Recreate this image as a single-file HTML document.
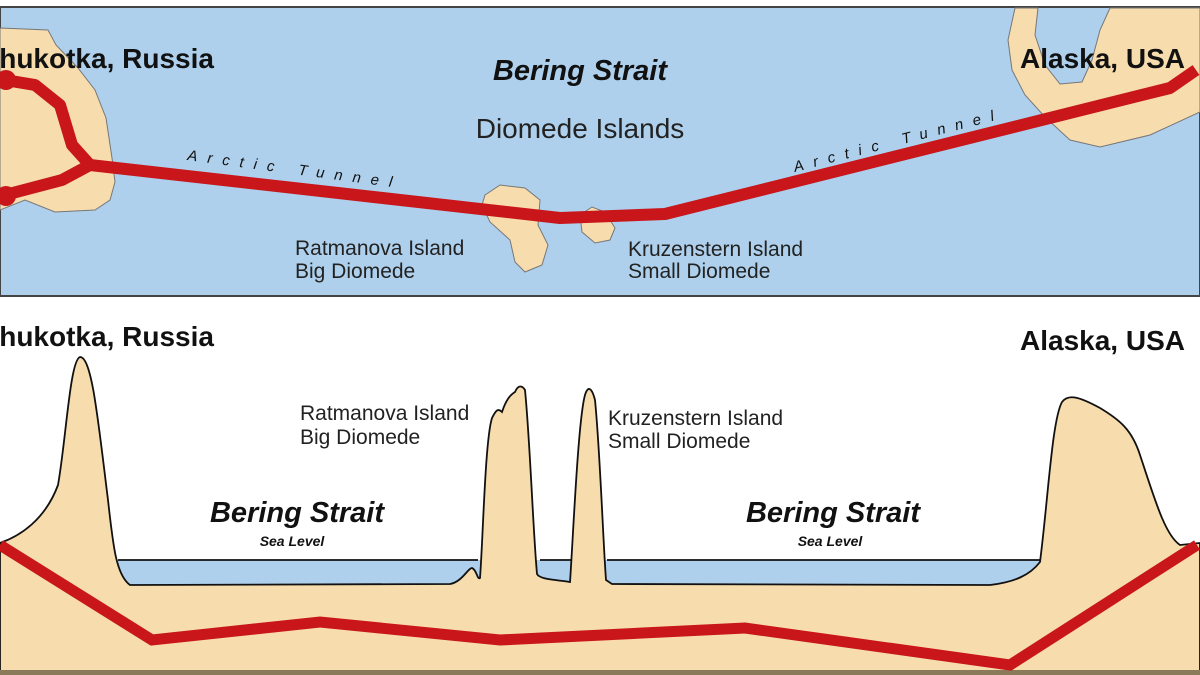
<!DOCTYPE html>
<html><head><meta charset="utf-8"><style>
html,body{margin:0;padding:0;background:#fff;}
svg{display:block;font-family:"Liberation Sans",sans-serif;}
</style></head><body>
<svg width="1200" height="675" viewBox="0 0 1200 675">
<rect x="0" y="0" width="1200" height="675" fill="#fff"/>
<rect x="0" y="7" width="1200" height="289" fill="#aed0ec" stroke="#444" stroke-width="2"/>
<path d="M0,28 L48,30 L56,45 L78,68 L95,90 L106,118 L112,158 L115,182 L110,200 L95,210 L55,212 L25,200 L0,210 Z" fill="#f7dcae" stroke="#777" stroke-width="1"/>
<path d="M1015,8 L1008,40 L1012,70 L1025,95 L1045,117 L1070,140 L1100,147 L1150,135 L1200,112 L1200,8 L1110,8 L1100,30 L1092,60 L1082,82 L1060,84 L1045,65 L1035,35 L1038,8 Z" fill="#f7dcae" stroke="#777" stroke-width="1"/>
<path d="M485,195 L500,185 L525,188 L540,200 L538,225 L548,245 L542,265 L525,272 L515,262 L510,240 L490,222 L482,205 Z" fill="#f7dcae" stroke="#777" stroke-width="1"/>
<path d="M580,215 L592,207 L605,212 L615,228 L610,240 L595,243 L582,232 Z" fill="#f7dcae" stroke="#777" stroke-width="1"/>
<g fill="none" stroke="#c8161a" stroke-width="12" stroke-linejoin="round">
<path d="M5,80 L35,85 L60,105 L72,145 L90,165 L62,180 L5,195"/>
<path d="M90,165 L560,218 L665,214 L1170,88 L1196,70"/>
</g>
<circle cx="6" cy="80" r="10" fill="#c8161a"/>
<circle cx="6" cy="196" r="10" fill="#c8161a"/>
<text x="-21" y="68" font-size="28" font-weight="bold" fill="#111">Chukotka, Russia</text>
<text x="1020" y="68" font-size="28" font-weight="bold" fill="#111">Alaska, USA</text>
<text x="580" y="80" font-size="29" font-weight="bold" font-style="italic" text-anchor="middle" fill="#111">Bering Strait</text>
<text x="580" y="138" font-size="28" text-anchor="middle" fill="#222">Diomede Islands</text>
<text transform="translate(187,160) rotate(7.5)" font-size="15" letter-spacing="10" fill="#111" font-style="italic">Arctic Tunnel</text>
<text transform="translate(795,172) rotate(-14.5)" font-size="15" letter-spacing="10" fill="#111" font-style="italic">Arctic Tunnel</text>
<text x="295" y="255" font-size="21" fill="#222">Ratmanova Island</text>
<text x="295" y="278" font-size="21" fill="#222">Big Diomede</text>
<text x="628" y="256" font-size="21" fill="#222">Kruzenstern Island</text>
<text x="628" y="278" font-size="21" fill="#222">Small Diomede</text>
<rect x="110" y="560" width="940" height="32" fill="#aed0ec"/>
<path d="M0,543 C20,536 45,520 58,485 C66,440 70,360 80,357 C92,357 98,420 108,500 C113,545 116,575 130,585 L450,584 C462,582 468,568 472,568 C477,570 477,580 480,578 C483,540 485,440 492,418 C496,410 498,408 502,412 C506,400 510,395 515,392 C518,385 522,385 525,390 C530,440 533,530 537,574 C540,580 560,580 570,582 C573,540 578,420 585,395 C588,385 592,388 595,400 C600,450 603,540 606,580 L612,584 L990,585 C1015,582 1030,575 1040,562 C1048,500 1052,420 1062,402 C1068,394 1078,396 1100,408 C1120,420 1132,430 1140,455 C1155,500 1165,535 1180,545 L1200,543 L1200,672 L0,672 Z" fill="#f7dcae" stroke="#111" stroke-width="1.8"/>
<rect x="0" y="670" width="1200" height="5" fill="#8a7a5a"/>
<g stroke="#111" stroke-width="1.8">
<line x1="118" y1="560" x2="478" y2="560"/>
<line x1="540" y1="560" x2="572" y2="560"/>
<line x1="607" y1="560" x2="1040" y2="560"/>
</g>
<path d="M0,545 L152,640 L320,622 L500,640 L745,628 L1010,665 L1197,545" fill="none" stroke="#c8161a" stroke-width="11" stroke-linejoin="miter"/>
<text x="-21" y="346" font-size="28" font-weight="bold" fill="#111">Chukotka, Russia</text>
<text x="1020" y="350" font-size="28" font-weight="bold" fill="#111">Alaska, USA</text>
<text x="300" y="420" font-size="21" fill="#222">Ratmanova Island</text>
<text x="300" y="444" font-size="21" fill="#222">Big Diomede</text>
<text x="608" y="425" font-size="21" fill="#222">Kruzenstern Island</text>
<text x="608" y="448" font-size="21" fill="#222">Small Diomede</text>
<text x="297" y="522" font-size="29" font-weight="bold" font-style="italic" text-anchor="middle" fill="#111">Bering Strait</text>
<text x="292" y="546" font-size="14" font-weight="bold" font-style="italic" text-anchor="middle" fill="#111">Sea Level</text>
<text x="833" y="522" font-size="29" font-weight="bold" font-style="italic" text-anchor="middle" fill="#111">Bering Strait</text>
<text x="830" y="546" font-size="14" font-weight="bold" font-style="italic" text-anchor="middle" fill="#111">Sea Level</text>
</svg>
</body></html>
